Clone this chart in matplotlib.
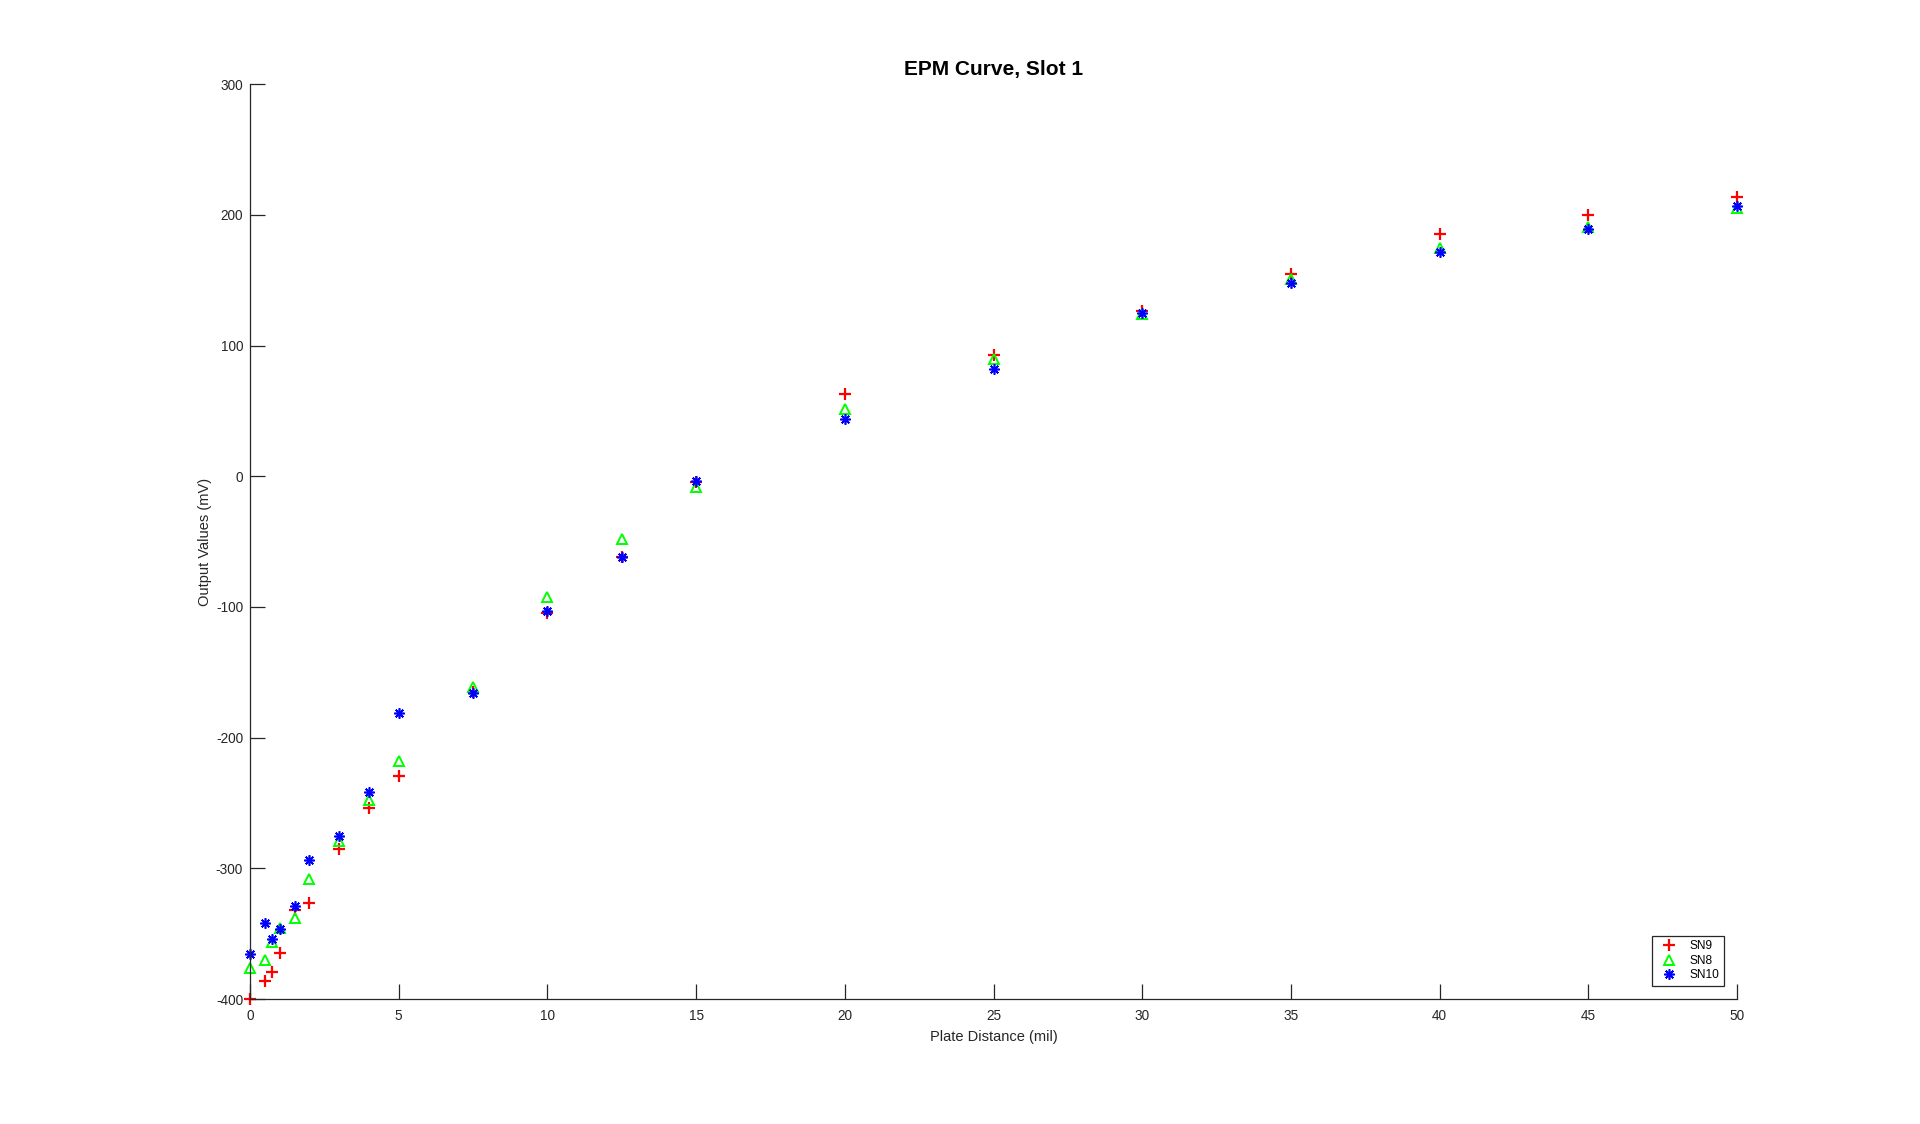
import matplotlib
matplotlib.use('Agg')
import matplotlib.pyplot as plt

# ---------------------------------------------------------
# data
# ---------------------------------------------------------
distance = [0, 0.5, 0.75, 1, 1.5, 2, 3, 4, 5, 7.5, 10, 12.5, 15, 20, 25, 30, 35, 40, 45, 50]

sn9 = [-400, -386, -379.5, -365, -332, -326.5, -285, -254, -229, -165,
       -104.5, -61.5, -4.5, 63, 92.5, 126.5, 154.5, 185.5, 200, 214]
sn8 = [-376, -370.5, -356, -346, -338, -308, -279, -248, -218, -161.5,
       -92, -48, -8.5, 51.5, 90, 124, 151, 174.5, 191, 205]
sn10 = [-365.5, -342, -354, -346.5, -329, -293.5, -275.5, -241.5, -181, -166,
        -103, -61.5, -3.5, 44, 82.5, 125, 148, 171.5, 189, 207]

x_ticks = [0, 5, 10, 15, 20, 25, 30, 35, 40, 45, 50]
y_ticks = [-400, -300, -200, -100, 0, 100, 200, 300]

AX_GRAY = (0.15, 0.15, 0.15)

plt.rcParams['font.family'] = ['Liberation Sans', 'DejaVu Sans']
plt.rcParams['axes.unicode_minus'] = False


def plot_epm_curve():
    fig = plt.figure(figsize=(19.2, 11.24), dpi=100)
    ax = fig.add_axes([0.1302, 0.1112, 0.7745, 0.8138])

    # markers like the MATLAB defaults ('+', '^', '*')
    ax.plot(distance, sn9, linestyle='none', marker='+', color=(1, 0, 0),
            markersize=8, markeredgewidth=1.6, label='SN9', clip_on=False)
    ax.plot(distance, sn8, linestyle='none', marker='^', color=(0, 1, 0),
            markerfacecolor='none', markersize=6.5, markeredgewidth=1.4,
            label='SN8', clip_on=False)
    ax.plot(distance, sn10, linestyle='none', marker=(8, 2, 0), color=(0, 0, 1),
            markersize=7.5, markeredgewidth=1.2, label='SN10', clip_on=False)

    ax.set_xlim(0, 50)
    ax.set_ylim(-400, 300)
    ax.set_xticks(x_ticks)
    ax.set_yticks(y_ticks)

    # box off, ticks inside
    ax.spines['top'].set_visible(False)
    ax.spines['right'].set_visible(False)
    for side in ('left', 'bottom'):
        ax.spines[side].set_color(AX_GRAY)
        ax.spines[side].set_linewidth(0.9)
    ax.tick_params(direction='in', length=10.5, width=0.9, color=AX_GRAY,
                   labelcolor=AX_GRAY, labelsize=9.8)
    ax.tick_params(axis='x', pad=7)
    ax.tick_params(axis='y', pad=5)

    ax.set_title('EPM Curve, Slot 1', fontsize=15, fontweight='bold', pad=7)
    ax.set_xlabel('Plate Distance (mil)', fontsize=10.5, color=AX_GRAY, labelpad=5)
    ax.set_ylabel('Output Values (mV)', fontsize=10.5, color=AX_GRAY, labelpad=3)

    leg = ax.legend(loc='lower right', fontsize=8.6, fancybox=False, framealpha=1,
                    edgecolor=AX_GRAY, borderaxespad=1.1, handlelength=2.0,
                    handletextpad=0.7, labelspacing=0.2, borderpad=0.4)
    leg.get_frame().set_linewidth(0.9)

    fig.savefig('out.png', dpi=100, facecolor='white')


if __name__ == "__main__":
    plot_epm_curve()
